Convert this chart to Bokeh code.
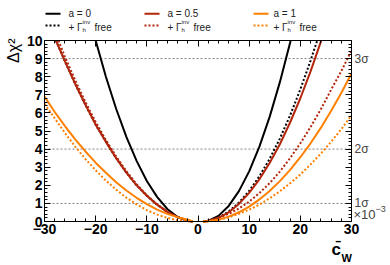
import math
from bokeh.plotting import figure
from bokeh.models import Range1d, LinearAxis, Label, FixedTicker
from bokeh.embed import file_html
from bokeh.resources import INLINE

NaN = float("nan")

# ---------------- data ----------------
x_left = [-30, -28, -26, -24, -22, -20, -18, -16, -14, -12, -10, -8, -6, -4, -2, -1]
x_right = [1, 2, 4, 6, 8, 10, 12, 14, 16, 18, 20, 22, 24, 26, 28, 30]

# a = 0
a0_left = [23.3, 20.2, 17.3, 14.7, 12.2, 10.0, 8.0, 6.23, 4.68, 3.35, 2.24, 1.36, 0.69, 0.25, 0.03, 0.0]
a0_right = [0.0, 0.03, 0.31, 0.86, 1.68, 2.77, 4.14, 5.78, 7.70, 9.88, 12.3, 15.1, 18.1, 21.4, 24.9, 28.8]
a0f_left = [11.6, 10.15, 8.85, 7.6, 6.45, 5.35, 4.4, 3.5, 2.7, 2.0, 1.42, 0.93, 0.53, 0.24, 0.06, 0.0]
a0f_right = [0.0, 0.03, 0.21, 0.55, 1.04, 1.69, 2.50, 3.46, 4.58, 5.86, 7.30, 8.89, 10.6, 12.5, 14.6, 16.8]
# a = 0.5
a05_left = [11.6, 10.15, 8.85, 7.6, 6.45, 5.35, 4.4, 3.5, 2.7, 2.0, 1.42, 0.93, 0.53, 0.24, 0.06, 0.0]
a05_right = [0.0, 0.03, 0.20, 0.51, 0.97, 1.58, 2.33, 3.23, 4.27, 5.47, 6.81, 8.29, 9.92, 11.7, 13.6, 15.7]
a05f_left = [12.0, 10.5, 9.1, 7.8, 6.6, 5.5, 4.5, 3.6, 2.78, 2.06, 1.45, 0.95, 0.54, 0.24, 0.06, 0.0]
a05f_right = [0.0, 0.05, 0.2, 0.42, 0.72, 1.1, 1.57, 2.12, 2.76, 3.5, 4.32, 5.22, 6.2, 7.27, 8.3, 9.45]
# a = 1
a1_left = [6.9, 6.05, 5.27, 4.54, 3.87, 3.25, 2.69, 2.17, 1.71, 1.31, 0.96, 0.66, 0.42, 0.24, 0.1, 0.0]
a1_right = [0.0, 0.016, 0.10, 0.27, 0.51, 0.82, 1.22, 1.69, 2.23, 2.85, 3.55, 4.32, 5.17, 6.10, 7.1, 8.18]
a1f_left = [6.5, 5.7, 4.89, 4.14, 3.45, 2.83, 2.26, 1.76, 1.32, 0.95, 0.63, 0.38, 0.2, 0.07, 0.01, 0.0]
a1f_right = [0.0, 0.026, 0.10, 0.23, 0.42, 0.65, 0.94, 1.28, 1.67, 2.11, 2.6, 3.15, 3.75, 4.4, 5.1, 5.86]

a_labels = ["a = 0", "a = 0.5", "a = 1"]
colors = ["#000000", "#b3260b", "#ff8000"]
sigma_levels = [1, 4, 9]
sigma_labels = ["1σ", "2σ", "3σ"]
x_ticks = [-30, -20, -10, 0, 10, 20, 30]
y_ticks = [0, 1, 2, 3, 4, 5, 6, 7, 8, 9, 10]
XMIN, XMAX, YMIN, YMAX = -30, 30, 0, 10

FONT = "Liberation Sans"

# ---------------- geometry (canvas pixels; the page places the canvas at 0,0) ----------------
W, H = 390, 265
FL, FR, FT, FB = 44, 351, 40, 221          # axis box
SX = (FR - FL) / (XMAX - XMIN)
SY = (FB - FT) / (YMAX - YMIN)


def dx(px):
    return XMIN + (px - FL) / SX


def dy(py):
    return YMIN + (FB - py) / SY


p = figure(width=W, height=H,
           x_range=Range1d(dx(0), dx(W)), y_range=Range1d(dy(H), dy(0)),
           output_backend="svg", toolbar_location=None,
           min_border_left=0, min_border_right=0, min_border_top=0, min_border_bottom=0,
           x_axis_location=None, y_axis_location=None)
p.xgrid.visible = False
p.ygrid.visible = False
p.outline_line_color = None
p.background_fill_color = "white"
p.border_fill_color = "white"

xminor = [v for v in range(-30, 31, 2) if v % 10 != 0]
yminor = [i / 5 for i in range(0, 51) if i % 5 != 0]
xt = FixedTicker(ticks=x_ticks, minor_ticks=xminor)
yt = FixedTicker(ticks=y_ticks, minor_ticks=yminor)


def style(ax, labels=True):
    ax.axis_line_color = "black"
    ax.axis_line_width = 1
    ax.major_tick_in = 6
    ax.major_tick_out = 0
    ax.minor_tick_in = 3
    ax.minor_tick_out = 0
    ax.major_tick_line_color = "black"
    ax.minor_tick_line_color = "black"
    ax.major_label_text_font = FONT
    if labels:
        ax.major_label_text_font_style = "bold"
        ax.major_label_text_font_size = "14px"
        ax.major_label_text_color = "black"
    else:
        ax.major_label_text_font_size = "0px"
        ax.major_label_standoff = 0


bottom = LinearAxis(ticker=xt, fixed_location=YMIN, bounds=(XMIN, XMAX))
style(bottom)
bottom.major_label_standoff = 2
bottom.major_label_overrides = {v: (("−" + str(-v)) if v < 0 else str(v)) for v in x_ticks}
p.add_layout(bottom, "below")

top = LinearAxis(ticker=xt, fixed_location=YMAX, bounds=(XMIN, XMAX))
style(top, labels=False)
top.major_label_overrides = {v: "" for v in x_ticks}
p.add_layout(top, "above")

left = LinearAxis(ticker=yt, fixed_location=XMIN, bounds=(YMIN, YMAX))
style(left)
left.major_label_standoff = 2
p.add_layout(left, "left")

right = LinearAxis(ticker=yt, fixed_location=XMAX, bounds=(YMIN, YMAX))
style(right)
right.major_label_text_font_style = "normal"
right.major_label_text_font_size = "12px"
right.major_label_text_color = "#444444"
right.major_label_standoff = 3
ov = {v: "" for v in y_ticks}
for lv, lb in zip(sigma_levels, sigma_labels):
    ov[lv] = lb
right.major_label_overrides = ov
p.add_layout(right, "right")

# dashed sigma levels across the axis box
p.segment(x0=[XMIN] * 3, x1=[XMAX] * 3, y0=sigma_levels, y1=sigma_levels,
          line_color="#808080", line_width=1, line_dash="2 2")


def clip_top(xs, ys, top):
    """Cut a polyline at y = top (the axis box ceiling)."""
    ox, oy = [], []
    for i in range(len(xs)):
        x, y = xs[i], ys[i]
        if i > 0:
            xp, yp = xs[i - 1], ys[i - 1]
            if (yp > top) != (y > top):
                t = (top - yp) / (y - yp)
                ox.append(xp + t * (x - xp))
                oy.append(top)
                if y > top:
                    ox.append(NaN)
                    oy.append(NaN)
        if y <= top:
            ox.append(x)
            oy.append(y)
    return ox, oy


curves = [
    (a0_left, a0_right, colors[0], False),
    (a0f_left, a0f_right, colors[0], True),
    (a05_left, a05_right, colors[1], False),
    (a05f_left, a05f_right, colors[1], True),
    (a1_left, a1_right, colors[2], False),
    (a1f_left, a1f_right, colors[2], True),
]
for yl, yr, c, dotted in curves:
    lx_, ly_ = clip_top(x_left, yl, YMAX)
    rx_, ry_ = clip_top(x_right, yr, YMAX)
    xs = lx_ + [NaN] + rx_
    ys = ly_ + [NaN] + ry_
    if dotted:
        p.line(xs, ys, line_color=c, line_width=2, line_dash="2 2")
    else:
        p.line(xs, ys, line_color=c, line_width=2)

# axis titles and exponent
p.add_layout(Label(x=dx(13), y=dy(38), text="Δχ²", angle=math.pi / 2,
                   text_align="right", text_baseline="middle",
                   text_font=FONT, text_font_size="16px", text_color="black"))
p.add_layout(Label(x=dx(331), y=dy(249), text="c̄", text_align="left", text_baseline="middle",
                   text_font=FONT, text_font_size="17px", text_font_style="bold", text_color="black"))
p.add_layout(Label(x=dx(341), y=dy(257), text="W", text_align="left", text_baseline="middle",
                   text_font=FONT, text_font_size="11px", text_font_style="bold", text_color="black"))
p.add_layout(Label(x=dx(353), y=dy(214), text="×10", text_align="left", text_baseline="middle",
                   text_font=FONT, text_font_size="13px", text_color="#444444"))
p.add_layout(Label(x=dx(375), y=dy(208), text="−3", text_align="left", text_baseline="middle",
                   text_font=FONT, text_font_size="9px", text_color="#444444"))

# legend (three columns, two rows)
col_sample = [45, 144, 253]
col_text = [68, 167, 273]
ROW1, ROW2 = 13.3, 25
for i in range(3):
    x0 = col_sample[i]
    p.line([dx(x0), dx(x0 + 15)], [dy(ROW1), dy(ROW1)], line_color=colors[i], line_width=2)
    p.line([dx(x0), dx(x0 + 15)], [dy(ROW2), dy(ROW2)], line_color=colors[i], line_width=2,
           line_dash="2 2")
    tx = col_text[i]
    p.add_layout(Label(x=dx(tx), y=dy(ROW1), text=a_labels[i], text_align="left",
                       text_baseline="middle", text_font=FONT, text_font_size="10px",
                       text_color="#222222"))
    p.add_layout(Label(x=dx(tx), y=dy(26.5), text="+ Γ", text_align="left", text_baseline="middle",
                       text_font=FONT, text_font_size="10px", text_color="#222222"))
    p.add_layout(Label(x=dx(tx + 14), y=dy(21.5), text="inv", text_align="left",
                       text_baseline="middle", text_font=FONT, text_font_size="6px",
                       text_color="#222222"))
    p.add_layout(Label(x=dx(tx + 14), y=dy(29.3), text="h", text_align="left",
                       text_baseline="middle", text_font=FONT, text_font_size="6px",
                       text_color="#222222"))
    p.add_layout(Label(x=dx(tx + 26), y=dy(26.5), text="free", text_align="left",
                       text_baseline="middle", text_font=FONT, text_font_size="10px",
                       text_color="#222222"))

open("out.html", "w").write(file_html(p, INLINE))
